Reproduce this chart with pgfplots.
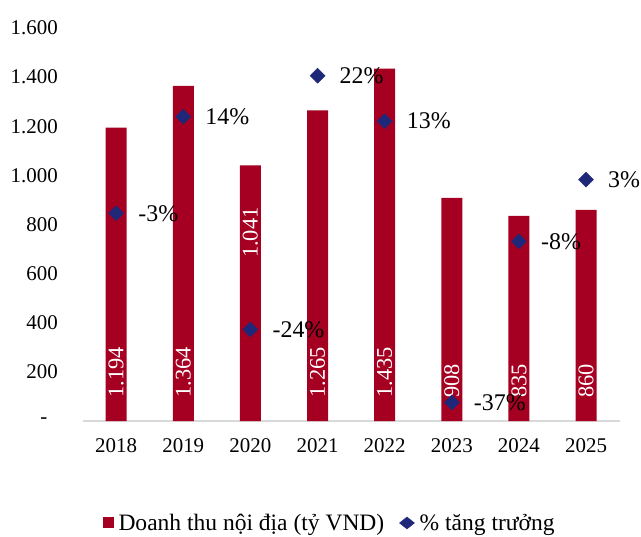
\documentclass[border=0pt]{standalone}
\usepackage{pgfplots}
\pgfplotsset{compat=1.18}
\usepackage{fontspec}
\setmainfont{Liberation Serif}
\definecolor{barred}{RGB}{165,0,33}
\definecolor{navy}{RGB}{31,40,120}
\definecolor{axisgray}{RGB}{217,217,217}
\begin{document}
\begin{tikzpicture}
\begin{axis}[
 at={(0,0)}, anchor=south west,
 scale only axis, width=537bp, height=393bp,
 xmin=-0.5, xmax=7.5, ymin=0, ymax=1600,
 axis x line*=bottom, axis y line*=left,
 x axis line style={draw=axisgray, line width=1.3bp},
 y axis line style={draw=none},
 major tick length=0pt,
 xtick={0,1,2,3,4,5,6,7},
 xticklabels={2018,2019,2020,2021,2022,2023,2024,2025},
 ytick={0,200,400,600,800,1000,1200,1400,1600},
 yticklabels={{-\rule{10.5bp}{0pt}},200,400,600,800,1.000,1.200,1.400,1.600},
 ticklabel style={font=\fontsize{21}{25}\selectfont, inner sep=0pt},
 xticklabel style={anchor=north, yshift=-17bp},
 yticklabel style={anchor=east, xshift=-24.6bp},
 clip=false,
 legend columns=2,
 legend style={at={(axis description cs:0.458,-0.2595)}, anchor=center,
   draw=none, fill=none, inner sep=0pt,
   font=\fontsize{23.6}{28}\selectfont, nodes={inner sep=0pt},
   /tikz/every odd column/.append style={column sep=5bp},
   /tikz/every even column/.append style={column sep=15bp}},
]
\addplot[ybar, bar width=21bp, fill=barred, draw=none,
  legend image code/.code={\fill[barred] (0bp,-5.5bp) rectangle (11bp,5.5bp);}]
  coordinates {(0,1194)(1,1364)(2,1041)(3,1265)(4,1435)(5,908)(6,835)(7,860)};
\addlegendentry{Doanh thu nội địa (tỷ VND)}
\addlegendimage{legend image code/.code={\fill[navy] (7.5bp,-6bp) -- (15bp,0bp) -- (7.5bp,6bp) -- (0bp,0bp) -- cycle;}}
\addlegendentry{\% tăng trưởng}
\begin{scope}[every node/.style={rotate=90, anchor=west, text=white, inner sep=0pt, font=\fontsize{22.5}{27}\selectfont}]
\node at (axis cs:0,94) {1.194};
\node at (axis cs:1,94) {1.364};
\node at (axis cs:2,663) {1.041};
\node at (axis cs:3,94) {1.265};
\node at (axis cs:4,94) {1.435};
\node at (axis cs:5,94) {908};
\node at (axis cs:6,94) {835};
\node at (axis cs:7,94) {860};
\end{scope}
\end{axis}
\begin{axis}[
 at={(0,0)}, anchor=south west,
 scale only axis, width=537bp, height=393bp,
 xmin=-0.5, xmax=7.5, ymin=-40, ymax=30,
 hide x axis, hide y axis, clip=false,
]
\addplot[only marks, mark=square*, mark size=5.3bp,
  mark options={rotate=45, fill=navy, draw=navy},
  nodes near coords, point meta=explicit symbolic,
  every node near coord/.append style={anchor=west, xshift=22bp, inner sep=0pt,
    font=\fontsize{24}{28}\selectfont, text=black}]
  coordinates {(0,-3)[-3\%] (1,14.2)[14\%] (2,-23.7)[-24\%] (3,21.5)[22\%]
               (4,13.4)[13\%] (5,-36.7)[-37\%] (6,-8.0)[-8\%] (7,3.0)[3\%]};
\end{axis}
\pgfresetboundingbox
\useasboundingbox (-82.6bp,-116bp) rectangle (558.4bp,421bp);
\end{tikzpicture}
\end{document}
